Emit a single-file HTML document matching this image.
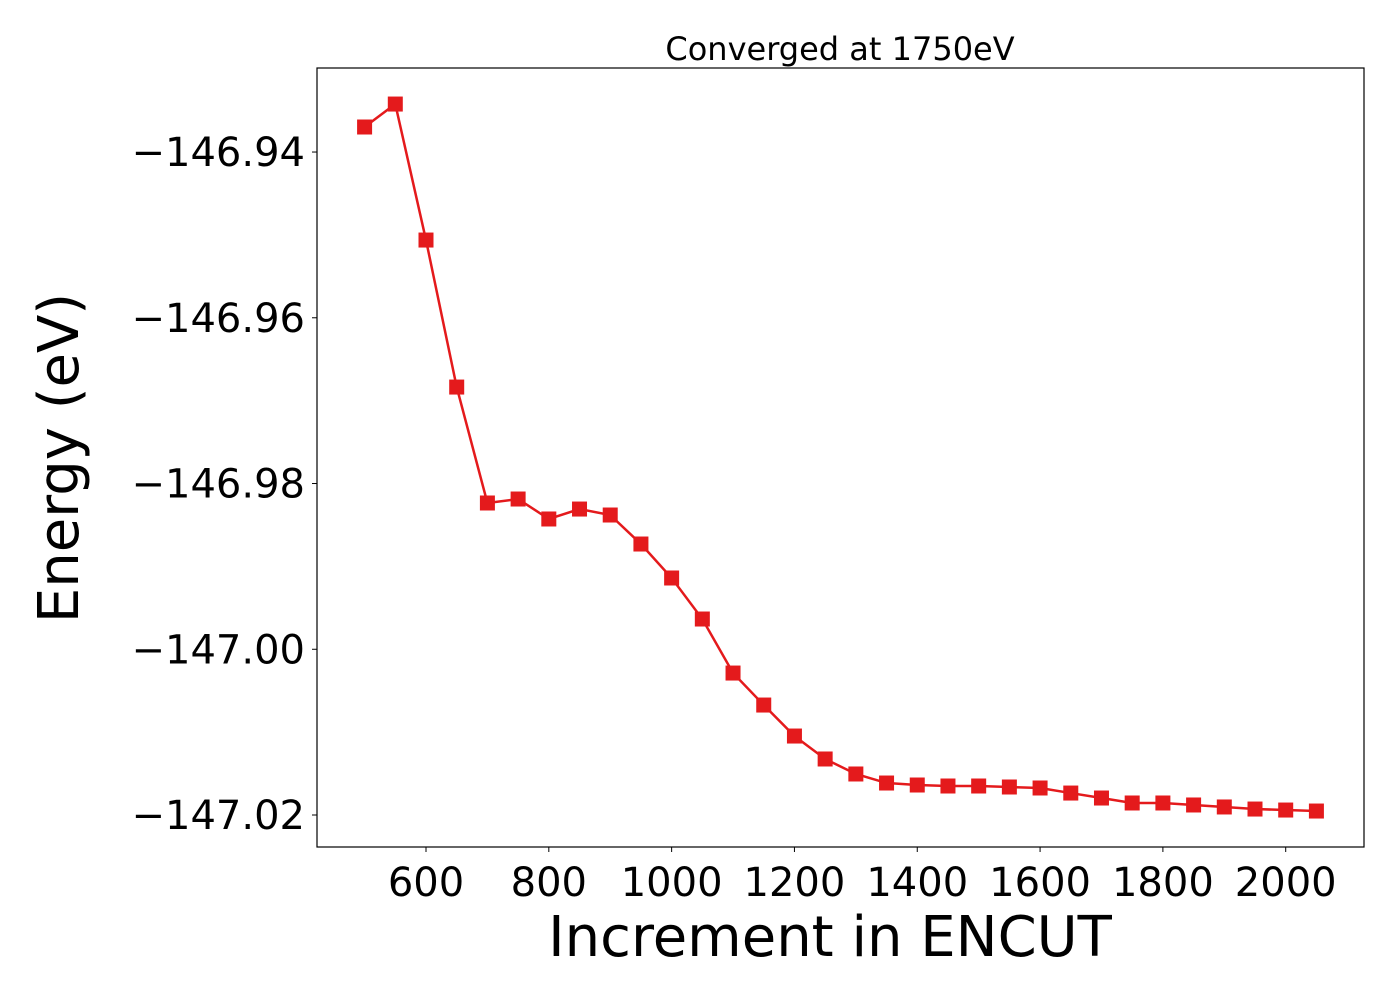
<!DOCTYPE html>
<html><head><meta charset="utf-8"><style>
body{margin:0;background:#fff;}
svg text{font-family:"DejaVu Sans","Liberation Sans",sans-serif;fill:#000;}
</style></head><body>
<svg id="chart" width="1400" height="1000" xmlns="http://www.w3.org/2000/svg">
<rect width="1400" height="1000" fill="#fff"/>
<text x="840" y="60" font-size="32" text-anchor="middle">Converged at 1750eV</text>
<g id="marks"></g>
<rect x="317" y="68" width="1047" height="779" fill="none" stroke="#000" stroke-width="1.2"/>
<g id="xticks"></g><g id="yticks"></g>
<text x="830" y="956" font-size="56" text-anchor="middle">Increment in ENCUT</text>
<text transform="translate(78,458) rotate(-90)" font-size="56" text-anchor="middle">Energy (eV)</text>
</svg>
<script>
const xValues=[500,550,600,650,700,750,800,850,900,950,1000,1050,1100,1150,1200,1250,1300,1350,1400,1450,1500,1550,1600,1650,1700,1750,1800,1850,1900,1950,2000,2050];
const energies=[-146.93698,-146.93421,-146.95062,-146.96836,-146.98235,-146.98187,-146.98428,-146.98308,-146.98380,-146.98730,-146.99140,-146.99635,-147.00287,-147.00673,-147.01047,-147.01324,-147.01505,-147.01614,-147.01638,-147.01650,-147.01650,-147.01662,-147.01674,-147.01735,-147.01795,-147.01855,-147.01855,-147.01879,-147.01903,-147.01928,-147.01940,-147.01952];
const xTicks=[600,800,1000,1200,1400,1600,1800,2000];
const yTicks=[-146.94,-146.96,-146.98,-147.00,-147.02];
const yTickLabels=["\u2212146.94","\u2212146.96","\u2212146.98","\u2212147.00","\u2212147.02"];
const NS="http://www.w3.org/2000/svg";
const L=317,R=1364,T=68,B=847;
const xmin=422.5,xmax=2127.5,ymin=-147.02386,ymax=-146.92986;
const sx=v=>L+(v-xmin)/(xmax-xmin)*(R-L);
const sy=v=>B-(v-ymin)/(ymax-ymin)*(B-T);
const marks=document.getElementById('marks');
const line=document.createElementNS(NS,'polyline');


line.setAttribute('points',xValues.map((x,i)=>sx(x)+','+sy(energies[i])).join(' '));
line.setAttribute('fill','none');line.setAttribute('stroke','#e41a1c');line.setAttribute('stroke-width','2.5');
marks.appendChild(line);
xValues.forEach((x,i)=>{
 const r=document.createElementNS(NS,'rect');
 
 
 r.setAttribute('x',sx(x)-7.5);r.setAttribute('y',sy(energies[i])-7.5);
 r.setAttribute('width',15);r.setAttribute('height',15);r.setAttribute('fill','#e41a1c');
 marks.appendChild(r);
});
const xg=document.getElementById('xticks');
xTicks.forEach(v=>{
 const l=document.createElementNS(NS,'line');
 
 
 l.setAttribute('x1',sx(v));l.setAttribute('x2',sx(v));l.setAttribute('y1',B);l.setAttribute('y2',B+5);l.setAttribute('stroke','#000');
 xg.appendChild(l);
 const t=document.createElementNS(NS,'text');
 
 
 t.setAttribute('x',sx(v));t.setAttribute('y',896);t.setAttribute('font-size','40');t.setAttribute('text-anchor','middle');
 t.textContent=v;xg.appendChild(t);
});
const yg=document.getElementById('yticks');
yTicks.forEach((v,i)=>{
 const l=document.createElementNS(NS,'line');
 
 
 l.setAttribute('x1',L-5);l.setAttribute('x2',L);l.setAttribute('y1',sy(v));l.setAttribute('y2',sy(v));l.setAttribute('stroke','#000');
 yg.appendChild(l);
 const t=document.createElementNS(NS,'text');
 
 
 t.setAttribute('x',305);t.setAttribute('y',sy(v)+14);t.setAttribute('font-size','40');t.setAttribute('text-anchor','end');
 t.textContent=yTickLabels[i];yg.appendChild(t);
});
</script>
</body></html>
